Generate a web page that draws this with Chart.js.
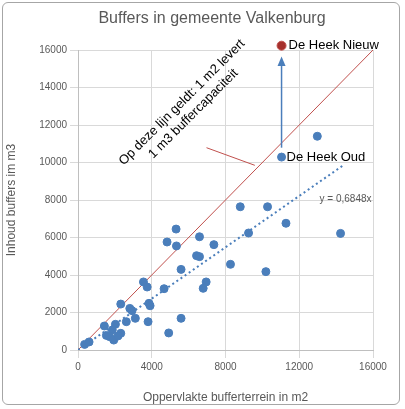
<!DOCTYPE html>
<html><head><meta charset="utf-8">
<script src="https://cdn.jsdelivr.net/npm/chart.js@4"></script>
<style>
html,body{margin:0;padding:0;background:#fff;}
#wrap{position:relative;width:405px;height:409px;}
#frame{position:absolute;left:2px;top:2px;width:398px;height:403px;border:1px solid #a6a6a6;border-radius:6px;box-sizing:border-box;pointer-events:none;}
</style></head><body>
<div id="wrap"><canvas id="c" width="405" height="409"></canvas><div id="frame"></div></div>
<script>
const areaM2 = [12980,8800,10280,11280,9250,14240,8270,10190,5320,4830,5340,6590,7370,6430,6590,5590,3550,3750,4670,6950,6790,2320,2810,2930,3850,3910,3110,2620,3800,5590,4920,1430,2030,1860,1540,1720,1940,2320,2170,360,600,11040];
const volumeM3 = [11400,7640,7640,6760,6240,6220,4570,4180,6450,5760,5550,6040,5620,5030,4980,4300,3630,3360,3270,3630,3290,2450,2220,2100,2490,2360,1690,1510,1510,1690,910,1280,1370,1070,780,710,530,890,750,300,430,10290];
const newPoint = [11040,16230];
const trendSlope = 0.6848;
const trendEndX = 14350;
const xTicks = [0,4000,8000,12000,16000];
const yTicks = [0,2000,4000,6000,8000,10000,12000,14000,16000];

const blue='#4a7ebb', red='#c0504d';
const pts = areaM2.map((x,i)=>({x:x,y:volumeM3[i]}));

const overlay = {
  id:'overlay',
  afterDatasetsDraw(chart){
    const ctx=chart.ctx, xs=chart.scales.x, ys=chart.scales.y;
    const X=v=>xs.getPixelForValue(v), Y=v=>ys.getPixelForValue(v);
    ctx.save();
    ctx.strokeStyle=blue; ctx.fillStyle=blue; ctx.lineWidth=1.5;
    const ax=X(11040);
    ctx.beginPath(); ctx.moveTo(ax,Y(10790)); ctx.lineTo(ax,Y(15300)); ctx.stroke();
    ctx.beginPath(); ctx.moveTo(ax,Y(15650)); ctx.lineTo(ax-4,Y(15150)); ctx.lineTo(ax+4,Y(15150)); ctx.closePath(); ctx.fill();
    ctx.strokeStyle=red; ctx.lineWidth=1;
    ctx.beginPath(); ctx.moveTo(X(6970),Y(10790)); ctx.lineTo(X(9590),Y(9850)); ctx.stroke();
    ctx.fillStyle='#000'; ctx.font='13px "Liberation Sans", Arial'; ctx.textBaseline='middle'; ctx.textAlign='left';
    ctx.fillText('De Heek Nieuw', X(newPoint[0])+7, Y(newPoint[1]));
    ctx.fillText('De Heek Oud', X(11040)+5, Y(10290));
    ctx.fillStyle='#595959'; ctx.font='10px "Liberation Sans", Arial';
    ctx.fillText('y = 0,6848x', X(13100), Y(8040));
    ctx.translate(X(5950),Y(12900)); ctx.rotate(-Math.PI/4);
    ctx.fillStyle='#000'; ctx.font='13px "Liberation Sans", Arial'; ctx.textAlign='center';
    ctx.fillText('Op deze lijn geldt: 1 m2 levert',0,-8);
    ctx.fillText('1 m3 buffercapaciteit',0,8);
    ctx.restore();
  },
  afterDraw(chart){
    const ctx=chart.ctx; ctx.save();
    ctx.fillStyle='#595959'; ctx.font='16px "Liberation Sans", Arial'; ctx.textAlign='center'; ctx.textBaseline='middle';
    ctx.fillText('Buffers in gemeente Valkenburg', 212, 19);
    ctx.restore();
  }
};

new Chart(document.getElementById('c'),{
  type:'scatter',
  data:{datasets:[
    {data:pts,backgroundColor:blue,borderColor:blue,pointRadius:4,pointHoverRadius:4,order:1},
    {data:[{x:newPoint[0],y:newPoint[1]}],backgroundColor:'#a5302c',borderColor:'#c0504d',borderWidth:1,pointRadius:4.5,order:0,clip:false},
    {type:'line',showLine:true,data:[{x:0,y:0},{x:16000,y:16000}],borderColor:red,backgroundColor:red,borderWidth:1,pointRadius:0,order:3},
    {type:'line',showLine:true,data:[{x:0,y:0},{x:trendEndX,y:trendEndX*trendSlope}],borderColor:blue,backgroundColor:blue,borderWidth:2,borderDash:[2,3],pointRadius:0,order:2}
  ]},
  options:{
    responsive:false,animation:false,
    layout:{padding:{top:50,right:32,left:0,bottom:0}},
    plugins:{legend:{display:false},tooltip:{enabled:false}},
    scales:{
      x:{type:'linear',min:0,max:16000,afterBuildTicks:s=>{s.ticks=xTicks.map(v=>({value:v}));},
        grid:{color:'#d9d9d9'},border:{color:'#bfbfbf'},
        ticks:{color:'#595959',font:{size:10,family:'Liberation Sans'},maxRotation:0,callback:v=>String(v)},
        title:{display:true,text:'Oppervlakte bufferterrein in m2',color:'#595959',font:{size:12,family:'Liberation Sans'},padding:{top:2}},
        afterFit:s=>{s.height=59;}},
      y:{type:'linear',min:0,max:16000,afterBuildTicks:s=>{s.ticks=yTicks.map(v=>({value:v}));},
        grid:{color:'#d9d9d9'},border:{color:'#bfbfbf'},
        ticks:{color:'#595959',font:{size:10,family:'Liberation Sans'},callback:v=>String(v)},
        title:{display:true,text:'Inhoud buffers im m3',color:'#595959',font:{size:12,family:'Liberation Sans'}},
        afterFit:s=>{s.width=78;}}
    }
  },
  plugins:[overlay]
});
</script></body></html>
